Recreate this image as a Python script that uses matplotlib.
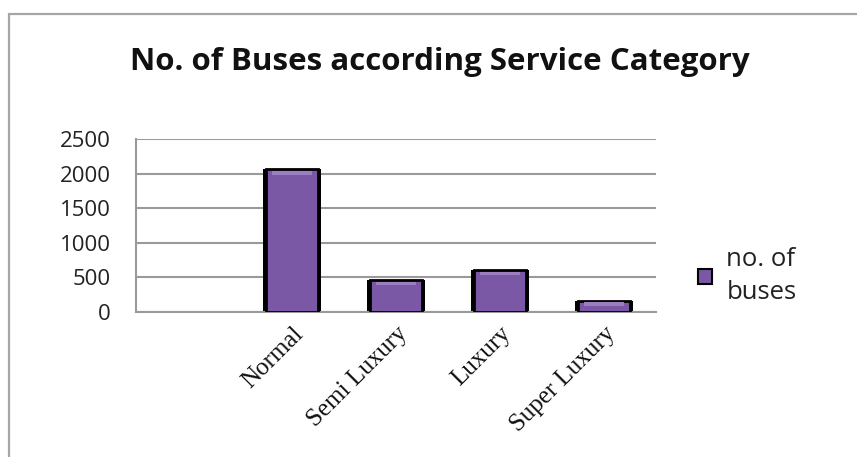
import matplotlib
matplotlib.use("Agg")
import matplotlib.pyplot as plt
from matplotlib.patches import Rectangle, Patch
import numpy as np

title = "No. of Buses according Service Category"
categories = ["Normal", "Semi Luxury", "Luxury", "Super Luxury"]
values = [2060, 460, 600, 160]
series_name = "no. of\nbuses"
yticks = [0, 500, 1000, 1500, 2000, 2500]

fig = plt.figure(figsize=(8.57, 4.57), dpi=100)
fig.patch.set_facecolor("white")

# outer chart border
fig.patches.append(Rectangle((9/857, -0.05), 1.0, 0.969 + 0.05, transform=fig.transFigure,
                             fill=False, edgecolor="#a6a6a6", linewidth=1.6))

ax = fig.add_axes([136/857, 1 - 311.7/457, (656-136)/857, (311.7-139)/457])
x = np.arange(len(categories))
# shadow
ax.bar(x, values, width=0.56, color="black", zorder=2)
ax.bar(x, values, width=0.50, color="#7a58a6", edgecolor="black", linewidth=2.0, zorder=3)
# top highlight
ax.bar(x, [50 for v in values], bottom=[v - 75 for v in values], width=0.38,
       color="#9a7ec0", linewidth=0, zorder=4)

ax.set_xlim(-1.5, 3.5)
ax.set_ylim(0, 2500)
ax.set_yticks(yticks)
ax.set_yticklabels([str(t) for t in yticks], fontsize=16, color="#222222", family="Open Sans")
ax.set_xticks(x)
ax.set_xticklabels(categories, rotation=45, ha="right", va="top", rotation_mode="anchor",
                   fontsize=18, family="Liberation Serif", color="#111111")
ax.tick_params(axis="x", length=0, pad=8)
ax.tick_params(axis="y", length=0, pad=18)
ax.yaxis.grid(True, color="#9a9a9a", linewidth=1.5, zorder=0)
ax.set_axisbelow(True)
for s in ["top", "right"]:
    ax.spines[s].set_visible(False)
ax.spines["left"].set_color("#9a9a9a")
ax.spines["left"].set_linewidth(1.5)
ax.spines["bottom"].set_color("#9a9a9a")
ax.spines["bottom"].set_linewidth(1.5)

fig.text(440/857, 1 - 62/457, title, ha="center", va="center", fontsize=22.5,
         fontweight="bold", family="Open Sans", color="#111111")

handle = Patch(facecolor="#7a58a6", edgecolor="black", linewidth=1.5)
leg = fig.legend([handle], [series_name], loc="center left", bbox_to_anchor=(675/857, 1 - 276/457),
                 frameon=False, handlelength=0.55, handleheight=0.55,
                 handletextpad=0.55, prop={"family": "Open Sans", "size": 18.5})
for t in leg.get_texts():
    t.set_color("#222222")
    t.set_linespacing(1.45)

fig.savefig("out.png", dpi=100)
